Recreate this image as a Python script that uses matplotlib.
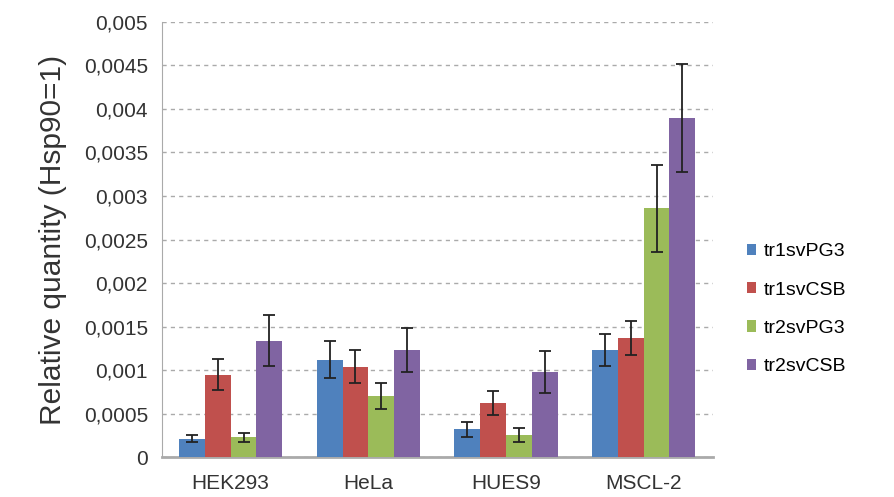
import numpy as np
import matplotlib.pyplot as plt
from matplotlib.ticker import FuncFormatter

plt.rcParams["font.family"] = ["Liberation Sans", "DejaVu Sans"]

cells = ["HEK293", "HeLa", "HUES9", "MSCL-2"]
series = ["tr1svPG3", "tr1svCSB", "tr2svPG3", "tr2svCSB"]

tr1svPG3 = [0.00021, 0.00112, 0.00032, 0.00123]
tr1svCSB = [0.00095, 0.00104, 0.00062, 0.00137]
tr2svPG3 = [0.00023, 0.00070, 0.00026, 0.00286]
tr2svCSB = [0.00134, 0.00123, 0.00098, 0.00390]

err_tr1svPG3 = [0.00004, 0.00021, 0.00009, 0.00018]
err_tr1svCSB = [0.00018, 0.00019, 0.00014, 0.00020]
err_tr2svPG3 = [0.00005, 0.00015, 0.00008, 0.00050]
err_tr2svCSB = [0.00029, 0.00025, 0.00024, 0.00062]

values = [tr1svPG3, tr1svCSB, tr2svPG3, tr2svCSB]
errors = [err_tr1svPG3, err_tr1svCSB, err_tr2svPG3, err_tr2svCSB]
colors = ["#4F81BD", "#C0504D", "#9BBB59", "#8064A2"]

fig = plt.figure(figsize=(8.94, 4.97), dpi=100)
ax = fig.add_axes([0.181, 0.08, 0.616, 0.876])

x = np.arange(len(cells))
w = 0.1875
for i, (name, v, e, c) in enumerate(zip(series, values, errors, colors)):
    ax.bar(x + (i - 1.5) * w, v, w, color=c, label=name, zorder=3,
           yerr=e, error_kw=dict(ecolor="#222222", elinewidth=1.3, capsize=4, capthick=1.3, zorder=4))

ax.set_xlim(-0.5, 3.5)
ax.set_ylim(0, 0.005)
ax.set_yticks(np.arange(0, 0.00501, 0.0005))
ax.yaxis.set_major_formatter(FuncFormatter(lambda v, p: "0" if v == 0 else f"{v:.4f}".rstrip("0").replace(".", ",")))
ax.set_xticks(x)
ax.set_xticklabels(cells)
ax.tick_params(axis="both", length=0, labelsize=15, colors="#333333")
ax.tick_params(axis="y", pad=10)
ax.tick_params(axis="x", pad=12)
ax.grid(axis="y", color="#aaaaaa", linestyle=(0, (3, 3)), linewidth=1.0, zorder=0)
for s in ["top", "right"]:
    ax.spines[s].set_visible(False)
ax.spines["left"].set_color("#AAAAAA")
ax.spines["bottom"].set_color("#AAAAAA")
ax.spines["bottom"].set_linewidth(2)
ax.set_ylabel("Relative quantity (Hsp90=1)", fontsize=21.5, color="#333333", labelpad=12)

ax.legend(loc="center left", bbox_to_anchor=(1.03, 0.34), frameon=False, fontsize=14,
          handlelength=0.5, handleheight=0.5, handletextpad=0.4, labelspacing=1.1)

plt.savefig("out.png", dpi=100)
plt.close()
